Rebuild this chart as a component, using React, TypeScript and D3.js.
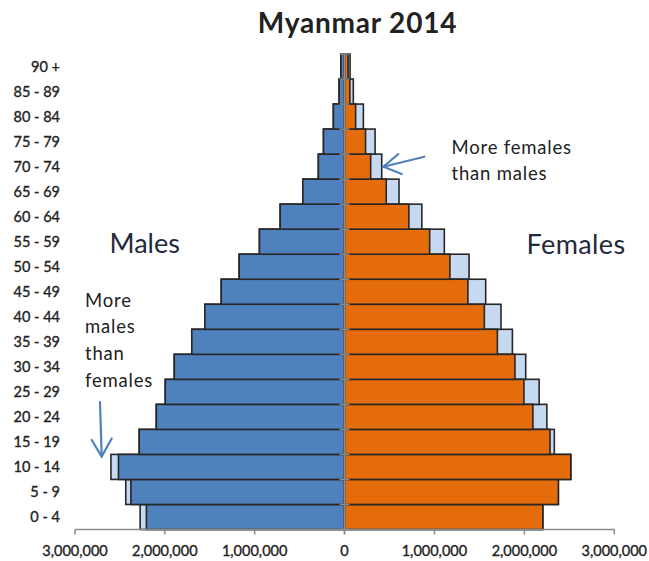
import React from "react";
import * as d3 from "d3";

// Myanmar 2014 census, population by five-year age group
const ageGroups = [
  "0 - 4", "5 - 9", "10 - 14", "15 - 19", "20 - 24", "25 - 29", "30 - 34",
  "35 - 39", "40 - 44", "45 - 49", "50 - 54", "55 - 59", "60 - 64",
  "65 - 69", "70 - 74", "75 - 79", "80 - 84", "85 - 89", "90 +",
];
const males = [
  2275000, 2435000, 2600000, 2285000, 2095000, 1995000, 1895000,
  1700000, 1555000, 1372000, 1172000, 947000, 716000,
  464000, 291000, 234000, 124000, 60000, 40000,
];
const females = [
  2205000, 2378000, 2516000, 2333000, 2250000, 2164000, 2015000,
  1867000, 1740000, 1570000, 1385000, 1110000, 860000,
  606000, 414000, 340000, 210000, 98000, 62000,
];
const axisTicks = [0, 1000000, 2000000, 3000000];

const W = 649;
const H = 561;
const CX = 344.5;
const TOP = 54;
const BOTTOM = 529.5;

const BLUE = "#4f81bd";
const ORANGE = "#e46c0a";
const PALE = "#c6d9f1";
const EDGE = "#262626";
const AXIS = "#8c8c8c";
const TEXT = "#222";
const ARROW = "#4f81bd";
const FONT = "Lato, 'Open Sans', sans-serif";

export default function App() {
  const xLeft = d3.scaleLinear().domain([0, 3000000]).range([CX, 75]);
  const xRight = d3.scaleLinear().domain([0, 3000000]).range([CX, 614.3]);
  const y = d3
    .scaleBand<string>()
    .domain([...ageGroups].reverse())
    .range([TOP, BOTTOM])
    .padding(0);
  const bw = y.bandwidth();
  const fmt = d3.format(",");

  const rows = ageGroups.map((g, i) => ({
    g,
    m: males[i],
    f: females[i],
    common: Math.min(males[i], females[i]),
  }));

  // small labels get a hairline stroke so they read as heavy as the chart's text
  const small = { fontSize: 14.5, fill: TEXT, stroke: TEXT, strokeWidth: 0.35 };

  return (
    <svg
      width={W}
      height={H}
      style={{ position: "absolute", left: 0, top: 0, background: "#fff" }}
      fontFamily={FONT}
    >
      <rect width={W} height={H} fill="#fff" />
      <text
        x={357.5}
        y={33}
        textAnchor="middle"
        fontSize={28}
        fontWeight="bold"
        letterSpacing={0.8}
        fill="#222"
      >
        Myanmar 2014
      </text>

      {/* excess population behind the shared bars */}
      {rows.map((r) => (
        <g key={"p" + r.g}>
          <rect
            x={xLeft(r.m)}
            y={y(r.g)}
            width={CX - xLeft(r.m)}
            height={bw}
            fill={PALE}
            stroke={EDGE}
            strokeWidth={1.6}
          />
          <rect
            x={CX}
            y={y(r.g)}
            width={xRight(r.f) - CX}
            height={bw}
            fill={PALE}
            stroke={EDGE}
            strokeWidth={1.6}
          />
        </g>
      ))}

      {/* population common to both sexes */}
      {rows.map((r) => (
        <g key={"c" + r.g}>
          <rect
            x={xLeft(r.common)}
            y={y(r.g)}
            width={CX - xLeft(r.common)}
            height={bw}
            fill={BLUE}
            stroke={EDGE}
            strokeWidth={1.6}
          />
          <rect
            x={CX}
            y={y(r.g)}
            width={xRight(r.common) - CX}
            height={bw}
            fill={ORANGE}
            stroke={EDGE}
            strokeWidth={1.6}
          />
        </g>
      ))}

      {/* vertical category axis */}
      <line x1={CX} x2={CX} y1={TOP} y2={BOTTOM} stroke={AXIS} strokeWidth={1.5} />
      {[...y.domain().map((g) => y(g) as number), BOTTOM].map((v, i) => (
        <line
          key={"yt" + i}
          x1={CX - 5}
          x2={CX + 5}
          y1={v}
          y2={v}
          stroke={AXIS}
          strokeWidth={1.5}
        />
      ))}
      {ageGroups.map((g) => (
        <text
          key={"yl" + g}
          x={60}
          y={(y(g) as number) + bw / 2}
          dy="0.35em"
          textAnchor="end"
          {...small}
        >
          {g}
        </text>
      ))}

      {/* horizontal value axis */}
      <line x1={xLeft(3000000)} x2={xRight(3000000)} y1={BOTTOM} y2={BOTTOM} stroke={AXIS} strokeWidth={1.5} />
      {axisTicks.map((t) => (
        <g key={"xt" + t}>
          <line x1={xLeft(t)} x2={xLeft(t)} y1={BOTTOM} y2={BOTTOM + 5} stroke={AXIS} strokeWidth={1.5} />
          <line x1={xRight(t)} x2={xRight(t)} y1={BOTTOM} y2={BOTTOM + 5} stroke={AXIS} strokeWidth={1.5} />
          <text x={xLeft(t)} y={556} textAnchor="middle" {...small}>
            {fmt(t)}
          </text>
          {t > 0 && (
            <text x={xRight(t)} y={556} textAnchor="middle" {...small}>
              {fmt(t)}
            </text>
          )}
        </g>
      ))}

      {/* side labels */}
      <text x={109.5} y={253} fontSize={27} fill="#1f2a3c">
        Males
      </text>
      <text x={526.5} y={254} fontSize={27} letterSpacing={0.4} fill="#1f2a3c">
        Females
      </text>

      {/* annotations */}
      <text fontSize={18.5} letterSpacing={0.8} fill={TEXT}>
        <tspan x={85} y={307}>More</tspan>
        <tspan x={85} y={333}>males</tspan>
        <tspan x={85} y={359.5}>than</tspan>
        <tspan x={85} y={386.5}>females</tspan>
      </text>
      <g stroke={ARROW} strokeWidth={2.2} fill="none" strokeLinecap="round">
        <line x1={100} y1={402} x2={101.7} y2={456.5} />
        <polyline points="91.7,440 101.7,456.5 111.7,438.5" />
      </g>

      <text fontSize={18.5} letterSpacing={0.8} fill={TEXT}>
        <tspan x={451.5} y={154}>More females</tspan>
        <tspan x={451.5} y={180}>than males</tspan>
      </text>
      <g stroke={ARROW} strokeWidth={2.2} fill="none" strokeLinecap="round">
        <line x1={424.3} y1={156.7} x2={383.5} y2={166.7} />
        <polyline points="398.3,154 383.5,166.7 401.7,174" />
      </g>
    </svg>
  );
}
